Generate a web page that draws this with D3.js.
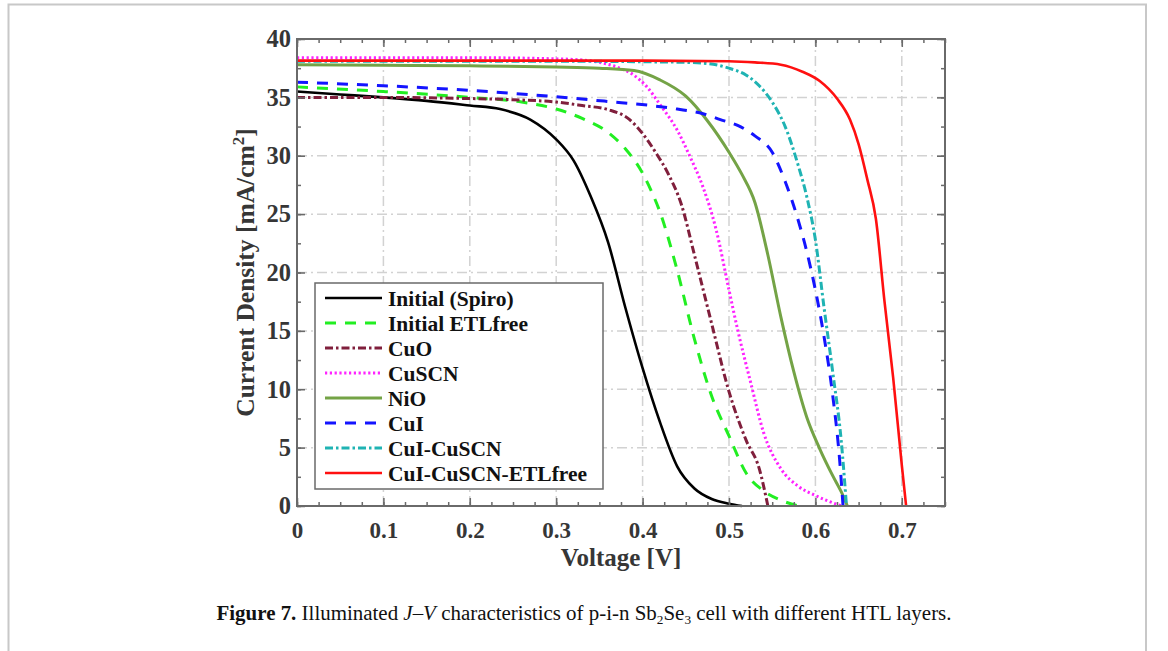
<!DOCTYPE html>
<html>
<head>
<meta charset="utf-8">
<script src="https://cdn.jsdelivr.net/npm/d3@7"></script>
<style>
  body { margin: 0; background: #fff; }
  svg { display: block; }
</style>
</head>
<body>
<div id="chart"></div>
<script>
// series names, in legend order
const seriesNames = ["Initial (Spiro)", "Initial ETLfree", "CuO", "CuSCN", "NiO", "CuI", "CuI-CuSCN", "CuI-CuSCN-ETLfree"];

// J-V points (V in volts, J in mA/cm2)
const spiroV = [0, 0.05, 0.1, 0.15, 0.2, 0.235, 0.27, 0.3, 0.32, 0.34, 0.36, 0.38, 0.4, 0.42, 0.44, 0.46, 0.48, 0.5, 0.515];
const spiroJ = [35.5, 35.25, 35.0, 34.7, 34.3, 34.0, 33.1, 31.4, 29.6, 26.5, 22.6, 17.0, 11.8, 7.2, 3.4, 1.5, 0.6, 0.2, 0];

const etlV = [0, 0.1, 0.2, 0.26, 0.3, 0.33, 0.36, 0.38, 0.4, 0.41, 0.42, 0.44, 0.46, 0.48, 0.5, 0.52, 0.54, 0.56, 0.58];
const etlJ = [35.9, 35.5, 35.0, 34.6, 34.0, 33.2, 32.0, 30.6, 28.5, 27.0, 25.2, 20.2, 14.3, 9.4, 6.0, 2.8, 1.3, 0.5, 0];

const cuoV = [0, 0.1, 0.2, 0.25, 0.3, 0.33, 0.36, 0.385, 0.4, 0.415, 0.43, 0.445, 0.46, 0.48, 0.5, 0.52, 0.535, 0.545];
const cuoJ = [35.0, 35.0, 34.9, 34.8, 34.6, 34.3, 33.95, 33.1, 31.9, 30.3, 28.4, 25.8, 21.5, 15.6, 9.8, 5.6, 3.2, 0];

const cuscnV = [0, 0.1, 0.2, 0.3, 0.33, 0.35, 0.37, 0.39, 0.405, 0.42, 0.44, 0.455, 0.47, 0.485, 0.5, 0.51, 0.525, 0.54, 0.56, 0.58, 0.6, 0.63];
const cuscnJ = [38.4, 38.4, 38.4, 38.3, 38.2, 38.0, 37.6, 36.9, 35.9, 34.4, 32.2, 29.9, 27.3, 23.7, 18.5, 15.1, 10.6, 6.3, 3.2, 1.7, 0.9, 0];

const nioV = [0, 0.1, 0.2, 0.3, 0.35, 0.39, 0.42, 0.45, 0.475, 0.5, 0.515, 0.53, 0.545, 0.56, 0.575, 0.59, 0.605, 0.62, 0.63, 0.637];
const nioJ = [37.8, 37.75, 37.7, 37.6, 37.5, 37.3, 36.5, 35.1, 33.0, 30.3, 28.4, 26.0, 21.5, 16.2, 11.5, 7.6, 4.9, 2.6, 1.2, 0];

const cuiV = [0, 0.1, 0.2, 0.3, 0.36, 0.41, 0.44, 0.47, 0.49, 0.51, 0.53, 0.55, 0.565, 0.58, 0.59, 0.6, 0.61, 0.62, 0.628, 0.632];
const cuiJ = [36.3, 36.0, 35.6, 35.05, 34.65, 34.3, 34.0, 33.6, 33.1, 32.6, 31.7, 30.3, 27.8, 24.5, 21.8, 18.5, 14.5, 9.5, 4.0, 0];

const cuiCuscnV = [0, 0.1, 0.2, 0.3, 0.4, 0.45, 0.475, 0.5, 0.52, 0.535, 0.55, 0.565, 0.58, 0.59, 0.6, 0.61, 0.62, 0.63, 0.636];
const cuiCuscnJ = [38.1, 38.1, 38.1, 38.1, 38.05, 38.0, 37.9, 37.5, 36.9, 36.0, 34.6, 32.5, 29.2, 26.5, 22.8, 17.0, 11.5, 5.5, 0];

const bestV = [0, 0.1, 0.2, 0.3, 0.4, 0.5, 0.53, 0.56, 0.585, 0.605, 0.625, 0.64, 0.65, 0.66, 0.67, 0.68, 0.69, 0.7, 0.705];
const bestJ = [38.15, 38.15, 38.15, 38.15, 38.15, 38.1, 38.0, 37.8, 37.2, 36.4, 34.9, 33.1, 31.0, 28.0, 24.6, 17.5, 11.0, 3.5, 0];

const xTicks = [0, 0.1, 0.2, 0.3, 0.4, 0.5, 0.6, 0.7];
const yTicks = [0, 5, 10, 15, 20, 25, 30, 35, 40];

const seriesData = [
  [spiroV, spiroJ], [etlV, etlJ], [cuoV, cuoJ], [cuscnV, cuscnJ],
  [nioV, nioJ], [cuiV, cuiJ], [cuiCuscnV, cuiCuscnJ], [bestV, bestJ]
];

// line styles per series
const styles = [
  { color: "#000000", dash: null, w: 2.6 },
  { color: "#22ee22", dash: "11,9", w: 3 },
  { color: "#801f3c", dash: "8,3,2.5,3", w: 3 },
  { color: "#ff22ff", dash: "2.2,2.6", w: 3 },
  { color: "#74a346", dash: null, w: 3 },
  { color: "#1414ff", dash: "11,9", w: 3 },
  { color: "#1fb3b3", dash: "8,3,2.5,3", w: 3 },
  { color: "#ff1010", dash: null, w: 2.6 }
];

const width = 1168, height = 651;
const margin = { left: 297, right: 1168 - 945, top: 39, bottom: 651 - 506 };

const svg = d3.select("#chart").append("svg")
  .attr("width", width)
  .attr("height", height);

// page frame
svg.append("path")
  .attr("d", "M8.5,660 L8.5,4.5 L1146,4.5 L1146,660")
  .attr("fill", "none")
  .attr("stroke", "#c8c8c8")
  .attr("stroke-width", 2);

const x = d3.scaleLinear().domain([0, 0.75]).range([margin.left, width - margin.right]);
const y = d3.scaleLinear().domain([0, 40]).range([height - margin.bottom, margin.top]);

const font = "'Liberation Serif', 'Times New Roman', serif";
const textColor = "#363636";

// grid lines (dash-dot)
const grid = svg.append("g");
xTicks.filter(v => v > 0).forEach(v => {
  grid.append("line")
    .attr("x1", x(v)).attr("x2", x(v))
    .attr("y1", y(0)).attr("y2", y(40))
    .attr("stroke", "#d2d2d2").attr("stroke-width", 1.5)
    .attr("stroke-dasharray", "10,4,2,4");
});
yTicks.filter(v => v > 0 && v < 40).forEach(v => {
  grid.append("line")
    .attr("x1", x(0)).attr("x2", x(0.75))
    .attr("y1", y(v)).attr("y2", y(v))
    .attr("stroke", "#d2d2d2").attr("stroke-width", 1.5)
    .attr("stroke-dasharray", "10,4,2,4");
});

// curves
const line = d3.line()
  .x(d => x(d[0]))
  .y(d => y(d[1]))
  .curve(d3.curveMonotoneX);

seriesData.forEach((s, i) => {
  const pts = s[0].map((v, k) => [v, s[1][k]]);
  svg.append("path")
    .datum(pts)
    .attr("d", line)
    .attr("fill", "none")
    .attr("stroke", styles[i].color)
    .attr("stroke-width", styles[i].w)
    .attr("stroke-dasharray", styles[i].dash)
    .attr("stroke-linejoin", "round");
});

// axes with inward ticks on all four sides
const axisCol = "#6a6a6a";
const minorX = d3.range(0, 0.7501, 0.025);
const minorY = d3.range(0, 40.01, 2.5);

function styleAxis(g) {
  g.select(".domain").remove();
  g.selectAll(".tick line").attr("stroke", axisCol).attr("stroke-width", 1.5);
}

svg.append("g")
  .attr("transform", `translate(0,${y(0)})`)
  .call(d3.axisBottom(x).tickValues(minorX).tickSize(-4).tickFormat(""))
  .call(styleAxis);
svg.append("g")
  .attr("transform", `translate(0,${y(0)})`)
  .call(d3.axisBottom(x).tickValues(xTicks).tickSize(-8).tickPadding(16)
    .tickFormat(d => d === 0 ? "0" : d3.format(".1f")(d)))
  .call(styleAxis)
  .call(g => g.selectAll("text")
    .attr("font-family", font).attr("font-weight", "bold")
    .attr("font-size", 23).attr("fill", textColor));

svg.append("g")
  .attr("transform", `translate(0,${y(40)})`)
  .call(d3.axisTop(x).tickValues(minorX).tickSize(-4).tickFormat(""))
  .call(styleAxis);
svg.append("g")
  .attr("transform", `translate(0,${y(40)})`)
  .call(d3.axisTop(x).tickValues(xTicks).tickSize(-8).tickFormat(""))
  .call(styleAxis);

svg.append("g")
  .attr("transform", `translate(${x(0)},0)`)
  .call(d3.axisLeft(y).tickValues(minorY).tickSize(-4).tickFormat(""))
  .call(styleAxis);
svg.append("g")
  .attr("transform", `translate(${x(0)},0)`)
  .call(d3.axisLeft(y).tickValues(yTicks).tickSize(-8).tickPadding(6))
  .call(styleAxis)
  .call(g => g.selectAll("text")
    .attr("font-family", font).attr("font-weight", "bold")
    .attr("font-size", 24.5).attr("fill", textColor));

svg.append("g")
  .attr("transform", `translate(${x(0.75)},0)`)
  .call(d3.axisRight(y).tickValues(minorY).tickSize(-4).tickFormat(""))
  .call(styleAxis);
svg.append("g")
  .attr("transform", `translate(${x(0.75)},0)`)
  .call(d3.axisRight(y).tickValues(yTicks).tickSize(-8).tickFormat(""))
  .call(styleAxis);

// frame
svg.append("rect")
  .attr("x", x(0)).attr("y", y(40))
  .attr("width", x(0.75) - x(0)).attr("height", y(0) - y(40))
  .attr("fill", "none").attr("stroke", axisCol).attr("stroke-width", 2);

// axis titles
svg.append("text")
  .attr("x", (x(0) + x(0.75)) / 2).attr("y", 566)
  .attr("text-anchor", "middle")
  .attr("font-family", font).attr("font-weight", "bold")
  .attr("font-size", 25).attr("fill", textColor)
  .text("Voltage [V]");

const yTitle = svg.append("text")
  .attr("transform", `translate(254,${(y(0) + y(40)) / 2}) rotate(-90)`)
  .attr("text-anchor", "middle")
  .attr("font-family", font).attr("font-weight", "bold")
  .attr("font-size", 25.5).attr("fill", textColor);
yTitle.append("tspan").text("Current Density [mA/cm");
yTitle.append("tspan").attr("dy", -10).attr("font-size", 17).text("2");
yTitle.append("tspan").attr("dy", 10).text("]");

// legend
const legend = svg.append("g");
legend.append("rect")
  .attr("x", 315).attr("y", 283).attr("width", 288).attr("height", 206)
  .attr("fill", "#fff").attr("stroke", axisCol).attr("stroke-width", 1.5);

seriesNames.forEach((name, i) => {
  const cy = 298 + i * 25;
  legend.append("line")
    .attr("x1", 325).attr("x2", 382)
    .attr("y1", cy).attr("y2", cy)
    .attr("stroke", styles[i].color)
    .attr("stroke-width", styles[i].w)
    .attr("stroke-dasharray", styles[i].dash);
  legend.append("text")
    .attr("x", 388).attr("y", cy + 7.5)
    .attr("font-family", font).attr("font-weight", "bold")
    .attr("font-size", 21.5).attr("fill", "#111")
    .text(name);
});

// caption
const cap = svg.append("text")
  .attr("x", 584).attr("y", 620)
  .attr("text-anchor", "middle")
  .attr("font-family", font)
  .attr("font-size", 20.5).attr("fill", "#111")
  .attr("textLength", 735)
  .attr("lengthAdjust", "spacingAndGlyphs");
cap.append("tspan").attr("font-weight", "bold").text("Figure 7.");
cap.append("tspan").text(" Illuminated ");
cap.append("tspan").attr("font-style", "italic").text("J");
cap.append("tspan").text("–");
cap.append("tspan").attr("font-style", "italic").text("V");
cap.append("tspan").text(" characteristics of p-i-n Sb");
cap.append("tspan").attr("font-size", 13).attr("dy", 4).text("2");
cap.append("tspan").attr("dy", -4).text("Se");
cap.append("tspan").attr("font-size", 13).attr("dy", 4).text("3");
cap.append("tspan").attr("dy", -4).text(" cell with different HTL layers.");
</script>
</body>
</html>
